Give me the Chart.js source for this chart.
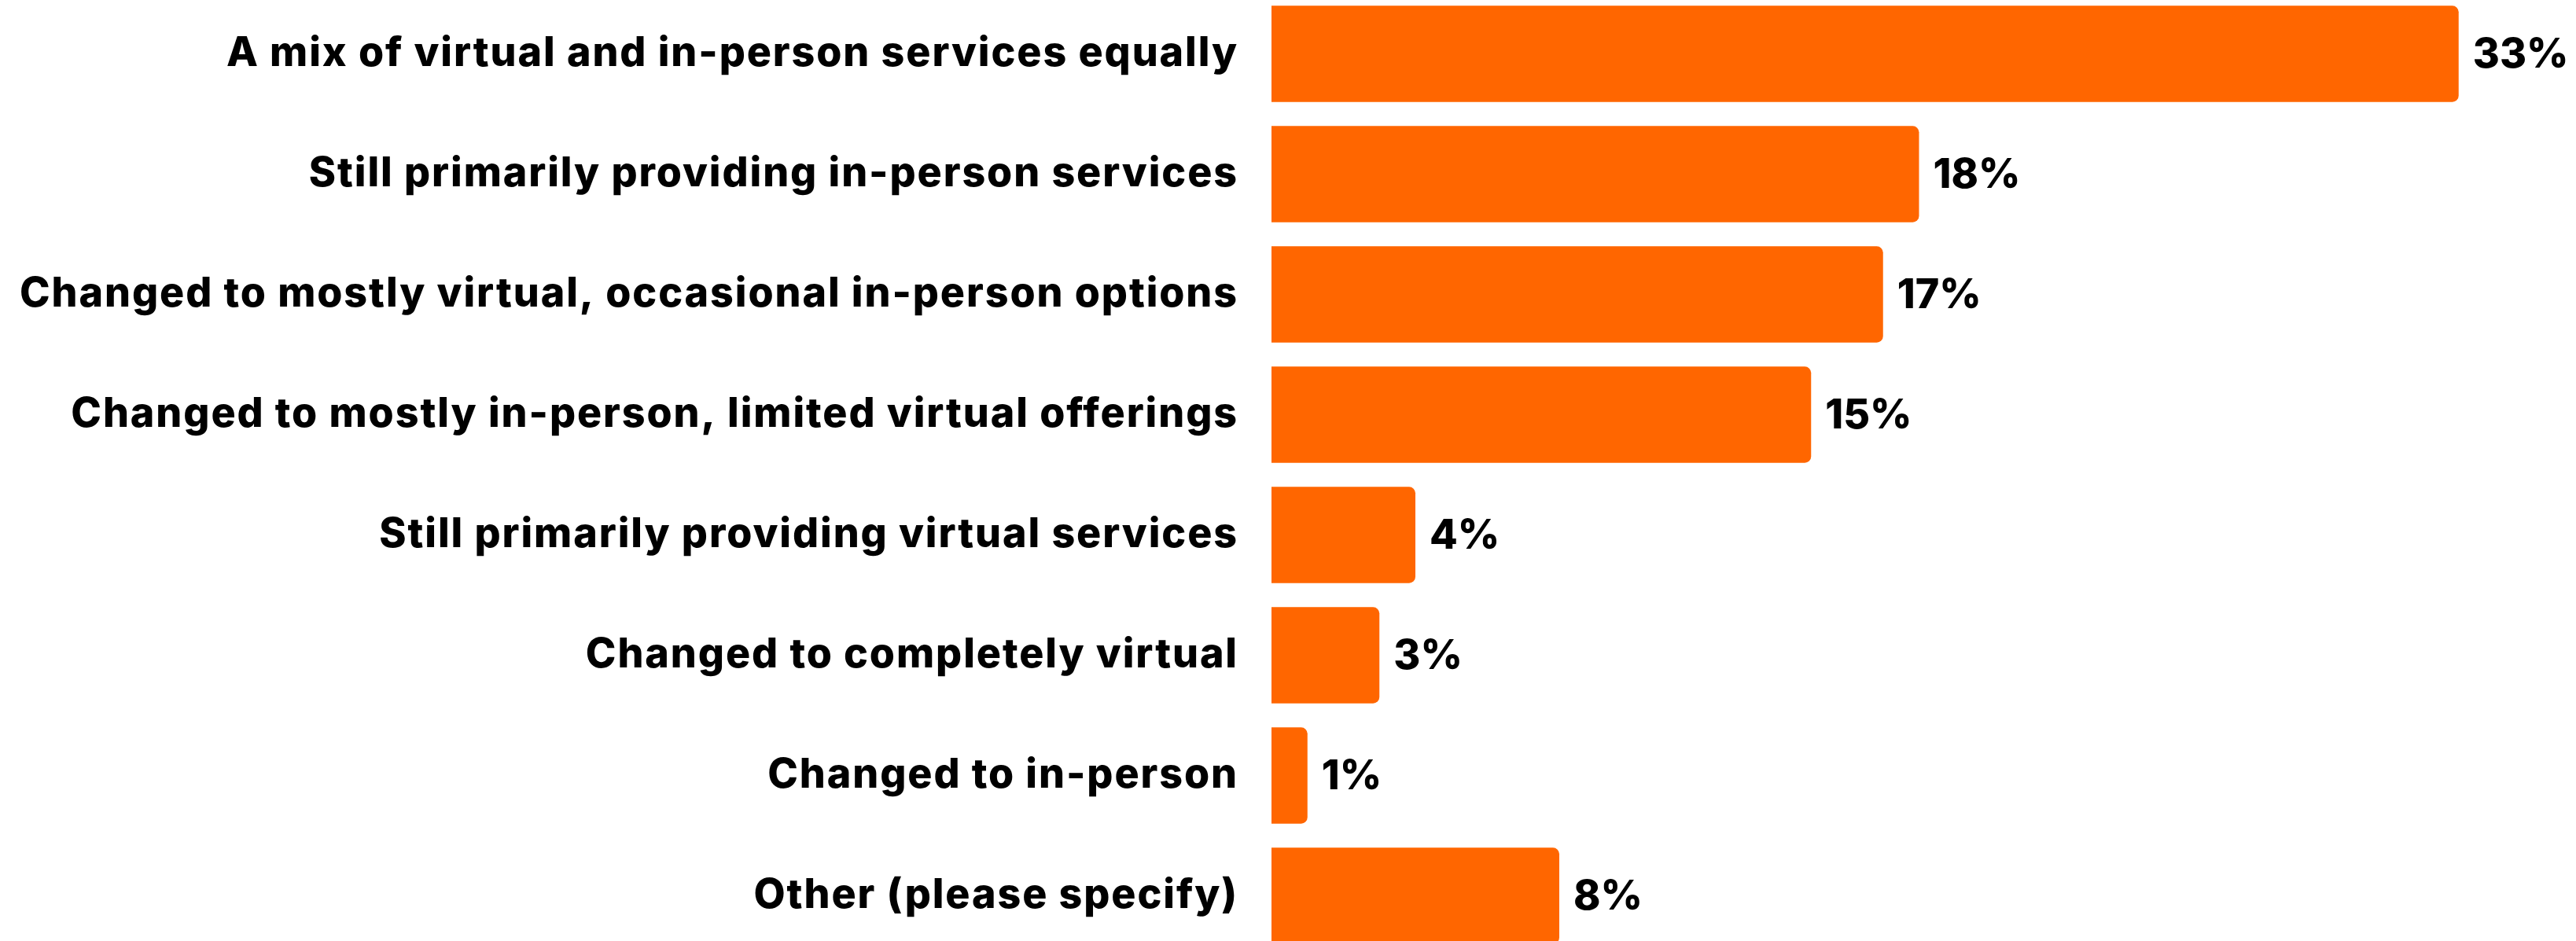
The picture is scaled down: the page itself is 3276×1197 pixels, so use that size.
<!DOCTYPE html>
<html>
<head>
<meta charset="utf-8">
<script src="https://cdn.jsdelivr.net/npm/chart.js@4"></script>
<style>
  html, body { margin: 0; padding: 0; background: #fff; overflow: hidden; }
  #wrap { position: absolute; left: 0; top: -8px; width: 3276px; height: 1224px; }
</style>
</head>
<body>
<div id="wrap"><canvas id="service-chart" width="3276" height="1224"></canvas></div>
<script>
const categories = [
  "A mix of virtual and in-person services equally",
  "Still primarily providing in-person services",
  "Changed to mostly virtual, occasional in-person options",
  "Changed to mostly in-person, limited virtual offerings",
  "Still primarily providing virtual services",
  "Changed to completely virtual",
  "Changed to in-person",
  "Other (please specify)",
];
const percents = [33, 18, 17, 15, 4, 3, 1, 8];

const labelFont = { family: "Inter", size: 52, weight: "800" };

// widen the category labels a little
const spacing = {
  id: "spacing",
  beforeDraw(chart) {
    chart.ctx.letterSpacing = "1.9px";
  },
};

// writes the percentage just past the end of each bar
const valueLabels = {
  id: "valueLabels",
  afterDatasetsDraw(chart) {
    const ctx = chart.ctx;
    const meta = chart.getDatasetMeta(0);
    ctx.save();
    ctx.letterSpacing = "0px";
    ctx.font = `${labelFont.weight} ${labelFont.size}px ${labelFont.family}`;
    ctx.fillStyle = "#000";
    ctx.textAlign = "left";
    ctx.textBaseline = "middle";
    meta.data.forEach((bar, i) => {
      ctx.fillText(percents[i] + "%", bar.x + 18, bar.y + 2);
    });
    ctx.restore();
  },
};

const sc = document.getElementById("service-chart").getContext("2d");
const chart = new Chart(sc, {
  type: "bar",
  data: {
    labels: categories,
    datasets: [
      {
        label: "Share",
        data: percents,
        backgroundColor: "#ff6600",
        borderWidth: 0,
        borderRadius: 8,
        borderSkipped: "start",
        barPercentage: 0.8,
        categoryPercentage: 1,
      },
    ],
  },
  options: {
    indexAxis: "y",
    responsive: false,
    animation: false,
    layout: { padding: { top: 0, bottom: 0, left: 0, right: 12 } },
    plugins: {
      legend: { display: false },
      tooltip: { enabled: false },
    },
    scales: {
      x: {
        display: false,
        min: 0,
        max: 36,
      },
      y: {
        grid: { display: false, drawTicks: false },
        border: { display: false },
        ticks: {
          color: "#000",
          font: labelFont,
          padding: 42,
        },
        afterFit(scale) {
          scale.width = 1617;
          scale.paddingTop = 0;
          scale.paddingBottom = 0;
        },
      },
    },
  },
  plugins: [spacing, valueLabels],
});
</script>
</body>
</html>
